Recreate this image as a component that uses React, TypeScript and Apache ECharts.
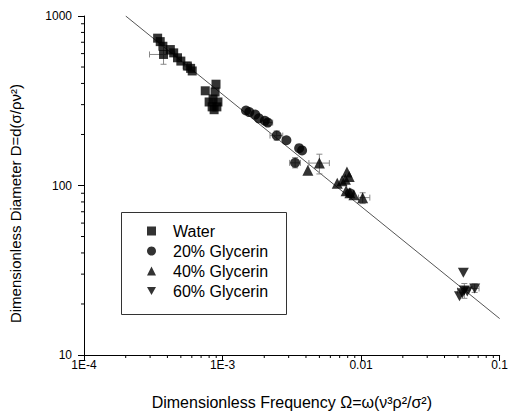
import React, { useEffect, useRef } from "react";
import * as echarts from "echarts";

// Water (squares)
const waterX = [3.40e-4, 3.55e-4, 3.71e-4, 3.75e-4, 4.20e-4, 4.44e-4, 4.73e-4, 5.0e-4, 5.57e-4, 5.88e-4, 6.04e-4, 7.5e-4, 8.97e-4, 8.83e-4, 8.54e-4, 8.0e-4, 9.26e-4, 8.41e-4, 9.1e-4, 8.69e-4];
const waterY = [740, 706, 663, 593, 634, 606, 567, 542, 507, 491, 474, 362, 396, 356, 324, 311, 311, 291, 291, 280];
// 20% Glycerin (circles)
const g20X = [1.476e-3, 1.56e-3, 1.72e-3, 1.83e-3, 2.02e-3, 2.12e-3, 2.46e-3, 2.89e-3, 3.57e-3, 3.75e-3, 3.34e-3, 8.3e-3];
const g20Y = [277, 271, 262, 249, 241, 235, 197, 185, 166, 161, 136, 90];
// 40% Glycerin (up triangles)
const g40X = [4.13e-3, 5.0e-3, 6.73e-3, 7.29e-3, 7.7e-3, 7.9e-3, 8.2e-3, 7.8e-3, 8.3e-3, 8.87e-3, 1.026e-2];
const g40Y = [123, 135.6, 103, 106.5, 109, 120, 113, 93, 90.5, 88.3, 84.8];
// 60% Glycerin (down triangles)
const g60X = [0.0547, 0.0556, 0.0538, 0.0513, 0.0584, 0.066];
const g60Y = [30.6, 24.0, 23.1, 22.2, 23.7, 24.7];

// Error bars
const errX = [3.75e-4, 5.57e-4, 2.12e-3, 2.46e-3, 3.34e-3, 5.0e-3, 1.026e-2, 0.0556, 0.066];
const errY = [593, 507, 235, 197, 136, 135.6, 84.8, 24.0, 24.7];
const errXLo = [2.97e-4, 5.2e-4, 1.98e-3, 2.2e-3, 3.05e-3, 4.2e-3, 9.57e-3, 0.0497, 0.0614];
const errXHi = [4.53e-4, 5.95e-4, 2.3e-3, 2.72e-3, 3.65e-3, 5.9e-3, 1.156e-2, 0.0604, 0.071];
const errYLo = [519, 480, 225, 185, 127, 117, 78.2, 21.6, 23.4];
const errYHi = [667, 534, 245, 210, 146, 153, 90.6, 26.4, 26.3];

// Fit line
const fitX = [2.0e-4, 0.1];
const fitY = [1000, 16.4];

// Axes
const xTickLabels = ["1E-4", "1E-3", "0.01", "0.1"];
const yTickLabels = ["10", "100", "1000"];
const xDecades = [1e-4, 1e-3, 1e-2];
const yDecades = [10, 100];
const minorSteps = [2, 3, 4, 5, 6, 7, 8, 9];

const seriesNames = ["Water", "20% Glycerin", "40% Glycerin", "60% Glycerin"];

const FONT = "'Liberation Sans', Arial, sans-serif";
const downTri = "path://M0,0L10,0L5,9Z";

export default function App() {
  const ref = useRef<HTMLDivElement>(null);
  useEffect(() => {
    if (!ref.current) return;
    const chart = echarts.init(ref.current, null, { renderer: "svg" });
    const zip = (xs: number[], ys: number[]) => xs.map((x, i) => [x, ys[i]]);
    const xMinor: number[][] = [];
    xDecades.forEach((d) => minorSteps.forEach((s) => xMinor.push([d * s, 10])));
    const yMinor: number[][] = [];
    yDecades.forEach((d) => minorSteps.forEach((s) => yMinor.push([1e-4, d * s])));
    const errData = errX.map((x, i) => [x, errY[i], errXLo[i], errXHi[i], errYLo[i], errYHi[i]]);

    chart.setOption({
      animation: false,
      backgroundColor: "#fff",
      textStyle: { fontFamily: FONT },
      grid: { left: 81, right: 5, top: 16, bottom: 56 },
      graphic: [
        {
          type: "rect",
          left: 121,
          top: 212,
          shape: { width: 165, height: 102 },
          style: { fill: "#fff", stroke: "#333", lineWidth: 1 },
          z: 90,
        },
      ],
      legend: {
        orient: "vertical",
        left: 147,
        top: 221,
        padding: 0,
        z: 100,
        itemGap: 0,
        itemWidth: 9,
        itemHeight: 9,
        textStyle: { fontSize: 16, color: "#000", fontFamily: FONT, lineHeight: 20, padding: [0, 0, 0, 12] },
        data: [
          { name: seriesNames[0], icon: "rect" },
          { name: seriesNames[1], icon: "circle" },
          { name: seriesNames[2], icon: "triangle" },
          { name: seriesNames[3], icon: downTri },
        ],
      },
      xAxis: {
        type: "log",
        logBase: 10,
        min: 1e-4,
        max: 0.1,
        name: "Dimensionless Frequency Ω=ω(ν³ρ²/σ²)",
        nameLocation: "middle",
        nameGap: 39,
        nameTextStyle: { fontSize: 16, color: "#000", fontFamily: FONT },
        axisLine: { show: true, lineStyle: { color: "#000", width: 1 } },
        axisTick: { show: true, inside: false, length: 6, lineStyle: { color: "#000" } },
        axisLabel: {
          color: "#000",
          fontSize: 12,
          fontFamily: FONT,
          margin: 4,
          formatter: (_v: number, i: number) => xTickLabels[i] ?? "",
        },
        splitLine: { show: false },
      },
      yAxis: {
        type: "log",
        logBase: 10,
        min: 10,
        max: 1000,
        name: "Dimensionless Diameter D=d(σ/ρν²)",
        nameLocation: "middle",
        nameGap: 61,
        nameTextStyle: { fontSize: 15, color: "#000", fontFamily: FONT, padding: [0, 36, 0, 0] },
        axisLine: { show: true, lineStyle: { color: "#000", width: 1 } },
        axisTick: { show: true, inside: false, length: 6, lineStyle: { color: "#000" } },
        axisLabel: {
          color: "#000",
          fontSize: 12,
          fontFamily: FONT,
          margin: 12,
          formatter: (_v: number, i: number) => yTickLabels[i] ?? "",
        },
        splitLine: { show: false },
      },
      series: [
        {
          type: "line",
          data: zip(fitX, fitY),
          symbol: "none",
          lineStyle: { color: "#555", width: 1 },
          silent: true,
          z: 1,
        },
        {
          type: "custom",
          data: errData,
          encode: { x: 0, y: 1 },
          z: 2,
          silent: true,
          renderItem: (_p: any, api: any) => {
            const y = api.value(1);
            const x = api.value(0);
            const l = api.coord([api.value(2), y]);
            const r = api.coord([api.value(3), y]);
            const b = api.coord([x, api.value(4)]);
            const t = api.coord([x, api.value(5)]);
            const st = { stroke: "#888", lineWidth: 1 };
            const c = 3;
            return {
              type: "group",
              children: [
                { type: "line", shape: { x1: l[0], y1: l[1], x2: r[0], y2: r[1] }, style: st },
                { type: "line", shape: { x1: l[0], y1: l[1] - c, x2: l[0], y2: l[1] + c }, style: st },
                { type: "line", shape: { x1: r[0], y1: r[1] - c, x2: r[0], y2: r[1] + c }, style: st },
                { type: "line", shape: { x1: b[0], y1: b[1], x2: t[0], y2: t[1] }, style: st },
                { type: "line", shape: { x1: b[0] - c, y1: b[1], x2: b[0] + c, y2: b[1] }, style: st },
                { type: "line", shape: { x1: t[0] - c, y1: t[1], x2: t[0] + c, y2: t[1] }, style: st },
              ],
            };
          },
        },
        {
          name: seriesNames[0],
          type: "scatter",
          data: zip(waterX, waterY),
          symbol: "rect",
          symbolSize: 9,
          itemStyle: { color: "#000" },
          z: 3,
        },
        {
          name: seriesNames[1],
          type: "scatter",
          data: zip(g20X, g20Y),
          symbol: "circle",
          symbolSize: 10,
          itemStyle: { color: "#000" },
          z: 3,
        },
        {
          name: seriesNames[2],
          type: "scatter",
          data: zip(g40X, g40Y),
          symbol: "triangle",
          symbolSize: 11,
          itemStyle: { color: "#000" },
          z: 3,
        },
        {
          name: seriesNames[3],
          type: "scatter",
          data: zip(g60X, g60Y),
          symbol: downTri,
          symbolSize: [11, 10],
          itemStyle: { color: "#000" },
          z: 3,
        },
        {
          type: "custom",
          data: xMinor,
          encode: { x: 0, y: 1 },
          silent: true,
          z: 4,
          renderItem: (_p: any, api: any) => {
            const p = api.coord([api.value(0), api.value(1)]);
            return { type: "line", shape: { x1: p[0], y1: p[1], x2: p[0], y2: p[1] + 3 }, style: { stroke: "#000", lineWidth: 1 } };
          },
        },
        {
          type: "custom",
          data: yMinor,
          encode: { x: 0, y: 1 },
          silent: true,
          z: 4,
          renderItem: (_p: any, api: any) => {
            const p = api.coord([api.value(0), api.value(1)]);
            return { type: "line", shape: { x1: p[0], y1: p[1], x2: p[0] - 3, y2: p[1] }, style: { stroke: "#000", lineWidth: 1 } };
          },
        },
      ],
    });
    return () => chart.dispose();
  }, []);
  return <div ref={ref} style={{ width: 511, height: 415, position: "absolute", left: 0, top: 0 }} />;
}
